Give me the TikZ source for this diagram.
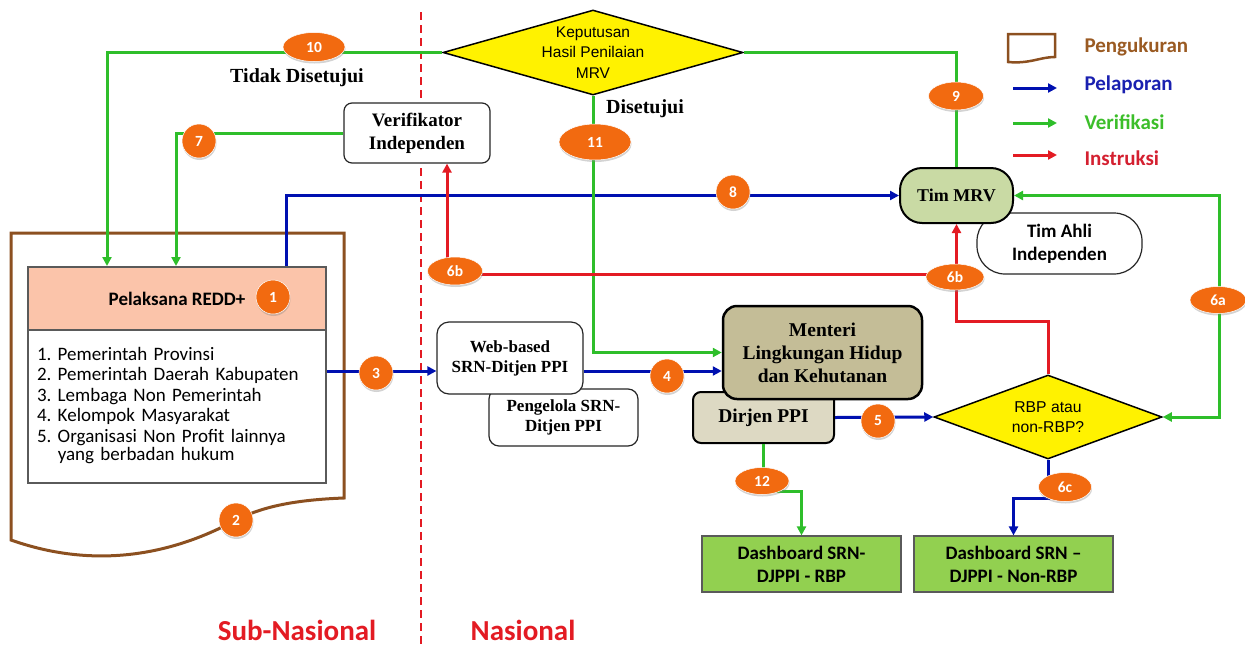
\documentclass[tikz,border=0pt]{standalone}
\usepackage{fontspec}
\newfontfamily\calfont{Carlito}
\newfontfamily\arialfont{Liberation Sans}
\newfontfamily\serfont{Liberation Serif}
\usetikzlibrary{shapes.geometric, arrows.meta, shadows}
\definecolor{vgreen}{HTML}{2EBE2A}
\definecolor{vblue}{HTML}{0010B0}
\definecolor{vred}{HTML}{E31B23}
\definecolor{vbrown}{HTML}{8C5020}
\definecolor{badgeorange}{HTML}{F26A10}
\definecolor{salmon}{HTML}{FBC4AA}
\definecolor{mrvfill}{HTML}{C9DAA4}
\definecolor{menfill}{HTML}{C4BD97}
\definecolor{dirfill}{HTML}{DDD9C3}
\definecolor{dashfill}{HTML}{92D050}
\definecolor{boxgray}{HTML}{5A5A5A}
\definecolor{legbrown}{HTML}{9A5A22}
\definecolor{legblue}{HTML}{1A20B0}
\definecolor{leggreen}{HTML}{3CBE2A}
\definecolor{legred}{HTML}{D42030}

\begin{document}
\begin{tikzpicture}[x=1pt,y=-1pt,
  tip/.style={-{Triangle[length=9pt,width=9pt]}},
  gline/.style={draw=vgreen, line width=3pt},
  bline/.style={draw=vblue, line width=3pt},
  rline/.style={draw=vred, line width=3pt},
  badge/.style={ellipse, fill=badgeorange, draw=white, line width=0.5pt, inner sep=0pt, text=white,
    font=\calfont\bfseries\fontsize{15.5}{15.5}\selectfont,
    drop shadow={opacity=0.35, shadow xshift=0.5pt, shadow yshift=-2pt}},
  rbox/.style={rectangle, rounded corners=10pt, draw=black!85, line width=1.2pt, fill=white, align=center,
    font=\serfont\bfseries\fontsize{17}{20}\selectfont},
  decide/.style={diamond, draw=black, line width=1.5pt, fill=yellow, inner sep=0pt},
  dashbox/.style={rectangle, draw=boxgray, line width=1.2pt, fill=dashfill, align=center,
    font=\calfont\bfseries\fontsize{19}{23}\selectfont, minimum width=199pt, minimum height=56pt}]
\useasboundingbox (0,0) rectangle (1245,646);
\draw[vred, line width=2pt, dash pattern=on 8pt off 5pt] (421,12) -- (421,646);
\draw[vbrown, line width=3pt] (11,233) -- (344,233) -- (344,498) .. controls (290,500) and (260,508) .. (236,520) .. controls (190,545) and (110,575) .. (11,540) -- cycle;

\node[rectangle, draw=boxgray, line width=2pt, fill=salmon, minimum width=298pt, minimum height=63pt, font=\calfont\bfseries\fontsize{19}{19}\selectfont] (pel) at (177,298.5) {Pelaksana REDD+};
\node[rectangle, draw=boxgray, line width=2pt, fill=white, minimum width=298pt, minimum height=153pt, inner xsep=9pt, text width=280pt, align=left, font=\calfont\fontsize{19}{20.5}\selectfont] (lst) at (177,406.5) {\begin{tabular}{@{}l@{\ }l@{}}1.&Pemerintah Provinsi\\2.&Pemerintah Daerah Kabupaten\\3.&Lembaga Non Pemerintah\\4.&Kelompok Masyarakat\\5.&Organisasi Non Profit lainnya\\[-2pt]&yang berbadan hukum\end{tabular}};

\node[decide, minimum width=300pt, minimum height=85pt, label={[font=\arialfont\fontsize{15.5}{20.5}\selectfont, align=center]center:Keputusan\\Hasil Penilaian\\MRV}] (kep) at (593,52.5) {};
\node[decide, minimum width=228pt, minimum height=84pt, label={[font=\arialfont\fontsize{15.7}{20}\selectfont, align=center]center:RBP atau\\non-RBP?}] (rbp) at (1048,417) {};

\node[rbox, rounded corners=8pt, minimum width=146pt, minimum height=60pt, font=\serfont\bfseries\fontsize{19}{23}\selectfont] (ver) at (417,133) {Verifikator\\Independen};
\node[rbox, minimum width=149pt, minimum height=57pt] (pgl) at (563.5,417.5) {Pengelola SRN-\\Ditjen PPI};
\node[rbox, rounded corners=12pt, minimum width=146pt, minimum height=72pt] (web) at (510,358) {Web-based\\SRN-Ditjen PPI};
\node[rbox, rounded corners=28pt, minimum width=165pt, minimum height=61pt, font=\calfont\bfseries\fontsize{19}{23}\selectfont] (ahli) at (1059.5,243.5) {Tim Ahli\\Independen};
\node[rbox, rounded corners=22pt, fill=mrvfill, draw=black, line width=2pt, minimum width=113pt, minimum height=55pt, font=\serfont\bfseries\fontsize{18}{20}\selectfont] (mrv) at (956.5,195.5) {Tim MRV};
\node[rbox, rounded corners=8pt, fill=dirfill, draw=black, line width=2pt, minimum width=141pt, minimum height=51pt, font=\serfont\bfseries\fontsize{19.5}{20}\selectfont] (dir) at (763.5,417.5) {Dirjen PPI};
\node[rbox, rounded corners=14pt, fill=menfill, draw=black, line width=2.5pt, minimum width=199pt, minimum height=93pt, font=\serfont\bfseries\fontsize{19.5}{23}\selectfont] (men) at (822.5,352.5) {Menteri\\Lingkungan Hidup\\dan Kehutanan};
\node[dashbox] (drb) at (801.5,564) {Dashboard SRN-\\DJPPI - RBP};
\node[dashbox] (dnr) at (1013.5,564) {Dashboard SRN –\\DJPPI - Non-RBP};

\coordinate (w3) at ([yshift=-13pt]web.west);
\coordinate (w4) at ([yshift=-13pt]web.east);
\coordinate (j6b) at (957,274);
\draw[gline, tip] (kep.west) -| ([xshift=80pt]pel.north west);
\draw[gline] (mrv.north) |- (kep.east);
\draw[gline, tip] (ver.west) -| ([xshift=149pt]pel.north west);
\draw[bline, tip] ([xshift=259pt]pel.north west) |- (mrv.west);
\draw[gline, tip] (kep.south) |- (men.west);
\draw[bline, tip] (lst.east |- w3) -- (w3);
\draw[bline, tip] (w4) -- (w4 -| men.west);
\draw[rline, tip] (rbp.north) -- ++(0,-53) -| (mrv.south);
\draw[rline, tip] (j6b) -| ([xshift=30pt]ver.south);
\draw[gline, {Triangle[length=9pt,width=9pt]}-{Triangle[length=9pt,width=9pt]}] (mrv.east) -- ++(205,0) |- (rbp.east);
\draw[bline, tip] (dir.east) -- (rbp.west);
\draw[bline, tip] (rbp.south) -- ++(0,39) -| (dnr.north);
\draw[gline, tip] (dir.south) -- ++(0,47) -| (drb.north);

\node[badge, minimum width=62pt, minimum height=29pt] (b10) at (314,47) {10};
\node[badge, minimum width=34pt, minimum height=34pt] (b7) at (199,141) {7};
\node[badge, minimum width=34pt, minimum height=34pt] (b1) at (273,297) {1};
\node[badge, minimum width=34pt, minimum height=34pt] (b2) at (236,520) {2};
\node[badge, minimum width=34pt, minimum height=34pt] (b3) at (376,373) {3};
\node[badge, minimum width=34pt, minimum height=34pt] (b8) at (733,192) {8};
\node[badge, minimum width=34pt, minimum height=34pt] (b4) at (667,376) {4};
\node[badge, minimum width=34pt, minimum height=34pt] (b5) at (878,421) {5};
\node[badge, minimum width=72pt, minimum height=36pt] (b11) at (595,142) {11};
\node[badge, minimum width=55pt, minimum height=28pt] (b9) at (956,96) {9};
\node[badge, minimum width=55pt, minimum height=28pt] (b6bl) at (455,271) {6b};
\node[badge, minimum width=58pt, minimum height=26pt] (b6br) at (955,277) {6b};
\node[badge, minimum width=56pt, minimum height=27pt] (b6a) at (1218,300) {6a};
\node[badge, minimum width=53pt, minimum height=29pt] (b6c) at (1065,487) {6c};
\node[badge, minimum width=54pt, minimum height=27pt] (b12) at (762,481) {12};

\node[font=\serfont\bfseries\fontsize{20}{20}\selectfont] (tdk) at (297,78) {Tidak Disetujui};
\node[font=\serfont\bfseries\fontsize{20}{20}\selectfont] (set) at (645,109) {Disetujui};
\node[font=\calfont\bfseries\fontsize{29}{29}\selectfont, text=vred] (sub) at (297,630) {Sub-Nasional};
\node[font=\calfont\bfseries\fontsize{29}{29}\selectfont, text=vred] (nas) at (523,630) {Nasional};

\draw[vbrown, line width=2.5pt] (1008,34) -- (1055,34) -- (1055,57) .. controls (1040,57) and (1030,64) .. (1008,62) -- cycle;
\draw[bline, tip] (1013,88) -- (1057,88);
\draw[gline, tip] (1013,123) -- (1057,123);
\draw[rline, tip] (1013,155) -- (1057,155);
\node[anchor=west, font=\calfont\bfseries\fontsize{21}{21}\selectfont, text=legbrown] (lg1) at (1081,47) {Pengukuran};
\node[anchor=west, font=\calfont\bfseries\fontsize{21}{21}\selectfont, text=legblue] (lg2) at (1081,85) {Pelaporan};
\node[anchor=west, font=\calfont\bfseries\fontsize{21}{21}\selectfont, text=leggreen] (lg3) at (1081,122) {Verifikasi};
\node[anchor=west, font=\calfont\bfseries\fontsize{21}{21}\selectfont, text=legred] (lg4) at (1081,158) {Instruksi};
\end{tikzpicture}
\end{document}
